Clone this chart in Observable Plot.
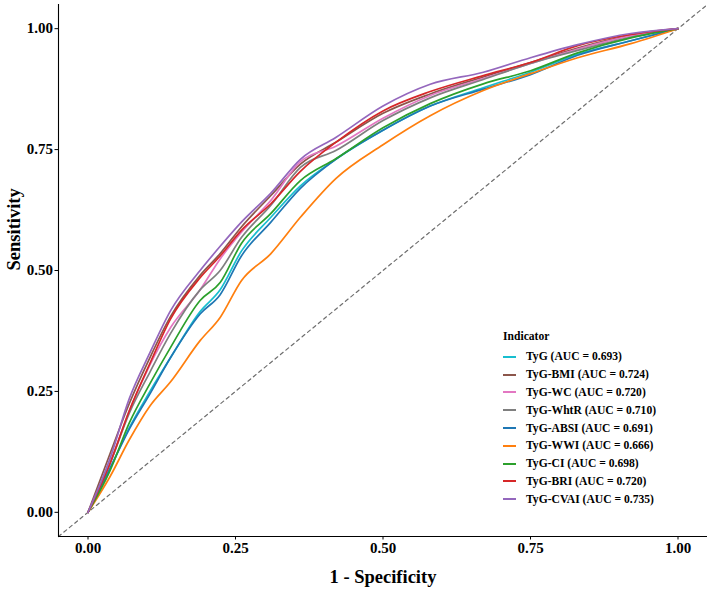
<!DOCTYPE html>
<html>
<head>
<meta charset="utf-8">
<script src="https://cdn.jsdelivr.net/npm/d3@7"></script>
<script src="https://cdn.jsdelivr.net/npm/@observablehq/plot@0.6"></script>
<style>
  body { margin: 0; background: #fff; }
  #chart { position: relative; width: 709px; height: 590px; font-family: "Liberation Serif", "Times New Roman", serif; }
  #legend { position: absolute; left: 503px; top: 328px; font-weight: bold; font-size: 11.6px; color: #000; }
  #legend .title { height: 20px; line-height: 18px; }
  #legend .row { height: 17.8px; display: flex; align-items: center; }
  #legend .row svg { margin-right: 10px; }
</style>
</head>
<body>
<div id="chart"></div>
<script>
// Indicators, their AUCs and line colours
const indicators = ["TyG", "TyG-BMI", "TyG-WC", "TyG-WhtR", "TyG-ABSI", "TyG-WWI", "TyG-CI", "TyG-BRI", "TyG-CVAI"];
const aucs = ["0.693", "0.724", "0.720", "0.710", "0.691", "0.666", "0.698", "0.720", "0.735"];
const palette = ["#17BECF", "#8C564B", "#E377C2", "#7F7F7F", "#1F77B4", "#FF7F0E", "#2CA02C", "#D62728", "#9467BD"];

// False positive rate (1 - specificity) at which each ROC curve is sampled
const fpr = [0, 0.037, 0.07, 0.105, 0.14, 0.19, 0.224, 0.26, 0.31, 0.36, 0.42, 0.5, 0.58, 0.67, 0.75, 0.83, 0.92, 1];

// Sensitivity of each indicator at those rates
const tprTyG  = [0, 0.09, 0.175, 0.25, 0.32, 0.415, 0.46, 0.54, 0.61, 0.675, 0.73, 0.79, 0.84, 0.878, 0.91, 0.947, 0.975, 1];
const tprBMI  = [0, 0.12, 0.225, 0.32, 0.405, 0.49, 0.535, 0.59, 0.655, 0.72, 0.765, 0.825, 0.865, 0.9, 0.93, 0.96, 0.986, 1];
const tprWC   = [0, 0.10, 0.21, 0.305, 0.382, 0.46, 0.524, 0.579, 0.645, 0.725, 0.757, 0.815, 0.862, 0.897, 0.928, 0.958, 0.985, 1];
const tprWhtR = [0, 0.10, 0.205, 0.29, 0.37, 0.46, 0.50, 0.568, 0.635, 0.713, 0.748, 0.81, 0.857, 0.895, 0.928, 0.955, 0.982, 1];
const tprABSI = [0, 0.09, 0.172, 0.245, 0.32, 0.41, 0.45, 0.53, 0.60, 0.67, 0.73, 0.79, 0.84, 0.875, 0.905, 0.945, 0.975, 1];
const tprWWI  = [0, 0.073, 0.15, 0.22, 0.27, 0.355, 0.403, 0.479, 0.535, 0.61, 0.69, 0.76, 0.82, 0.872, 0.907, 0.94, 0.969, 1];
const tprCI   = [0, 0.085, 0.185, 0.266, 0.341, 0.438, 0.475, 0.556, 0.618, 0.686, 0.731, 0.795, 0.845, 0.886, 0.913, 0.95, 0.981, 1];
const tprBRI  = [0, 0.10, 0.21, 0.308, 0.40, 0.485, 0.53, 0.583, 0.638, 0.705, 0.765, 0.83, 0.87, 0.903, 0.93, 0.965, 0.988, 1];
const tprCVAI = [0, 0.11, 0.235, 0.33, 0.417, 0.50, 0.55, 0.60, 0.66, 0.73, 0.775, 0.84, 0.885, 0.91, 0.94, 0.967, 0.99, 1];

const tprs = [tprTyG, tprBMI, tprWC, tprWhtR, tprABSI, tprWWI, tprCI, tprBRI, tprCVAI];

// Axis ticks and the padded axis range
const ticks = [0, 0.25, 0.5, 0.75, 1];
const axisDomain = [-0.05, 1.05];

const labels = indicators.map((d, i) => `${d} (AUC = ${aucs[i]})`);
const rows = indicators.flatMap((name, i) =>
  fpr.map((x, j) => ({ label: labels[i], fpr: x, tpr: tprs[i][j] }))
);

const fmt = d3.format(".2f");
const font = "Liberation Serif, Times New Roman, serif";

const chart = Plot.plot({
  width: 709,
  height: 590,
  marginLeft: 58,
  marginRight: 2,
  marginTop: 4,
  marginBottom: 54,
  style: { fontFamily: font, fontWeight: "bold", fontSize: "15px", color: "#000", background: "#fff" },
  x: { domain: axisDomain },
  y: { domain: axisDomain },
  color: { domain: labels, range: palette },
  marks: [
    Plot.line(axisDomain, { x: d => d, y: d => d, stroke: "#6e6e6e", strokeWidth: 1.2, strokeDasharray: "3.5,3.5" }),
    Plot.line(rows, { x: "fpr", y: "tpr", z: "label", stroke: "label", strokeWidth: 1.7, curve: "monotone-x" }),
    Plot.ruleX([axisDomain[0]], { stroke: "#000", strokeWidth: 1.1 }),
    Plot.ruleY([axisDomain[0]], { stroke: "#000", strokeWidth: 1.1 }),
    Plot.axisX({ ticks, tickFormat: fmt, tickSize: 3.5, tickPadding: 2, label: null, fontSize: 15 }),
    Plot.axisY({ ticks, tickFormat: fmt, tickSize: 3.5, tickPadding: 2, label: null, fontSize: 15 }),
    Plot.text(["1 - Specificity"], { frameAnchor: "bottom", dy: 41, lineAnchor: "middle", fontSize: 18.5, fontWeight: "bold" }),
    Plot.text(["Sensitivity"], { frameAnchor: "left", dx: -44, rotate: -90, lineAnchor: "middle", fontSize: 18.5, fontWeight: "bold" })
  ]
});

const container = document.getElementById("chart");
container.appendChild(chart);

// Legend placed inside the panel, bottom right
const legend = document.createElement("div");
legend.id = "legend";
const title = document.createElement("div");
title.className = "title";
title.textContent = "Indicator";
legend.appendChild(title);
labels.forEach((lab, i) => {
  const row = document.createElement("div");
  row.className = "row";
  row.innerHTML = `<svg width="13" height="4"><line x1="0" x2="13" y1="2" y2="2" stroke="${palette[i]}" stroke-width="2"/></svg><span>${lab}</span>`;
  legend.appendChild(row);
});
container.appendChild(legend);
</script>
</body>
</html>
